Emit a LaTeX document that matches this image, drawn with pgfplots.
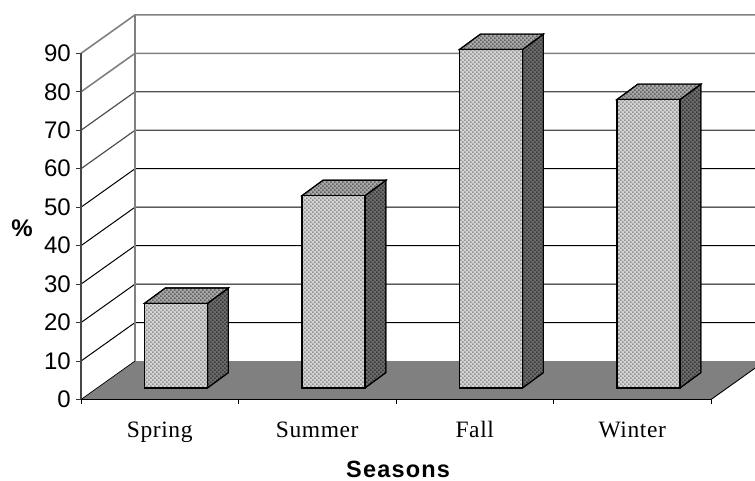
\documentclass[border=0pt]{standalone}
\usepackage{fontspec}
\setmainfont{Liberation Sans}
\newfontfamily\catfont[LetterSpace=2.5]{Liberation Serif}
\newfontfamily\labfont[LetterSpace=5]{Liberation Sans}
\usepackage{pgfplots}
\pgfplotsset{compat=1.18}
\usetikzlibrary{patterns}
\pgfdeclarepatternformonly{dith}{\pgfqpoint{-0.5pt}{-0.5pt}}{\pgfqpoint{3.5pt}{3.5pt}}{\pgfqpoint{4pt}{4pt}}{%
  \pgfpathrectangle{\pgfqpoint{0pt}{0pt}}{\pgfqpoint{1.6pt}{1.6pt}}%
  \pgfpathrectangle{\pgfqpoint{2pt}{2pt}}{\pgfqpoint{1.6pt}{1.6pt}}%
  \pgfusepath{fill}}
\definecolor{floorgray}{HTML}{808080}
\tikzset{
  frontface/.style={draw=black,line width=1.1pt,fill={rgb,255:red,212;green,212;blue,212},
    postaction={pattern=dith,pattern color={rgb,255:red,144;green,144;blue,144}}},
  topface/.style={draw=black,line width=1.1pt,fill={rgb,255:red,168;green,168;blue,168},
    postaction={pattern=dith,pattern color={rgb,255:red,96;green,96;blue,96}}},
  sideface/.style={draw=black,line width=1.1pt,fill={rgb,255:red,108;green,108;blue,108},
    postaction={pattern=dith,pattern color={rgb,255:red,56;green,56;blue,56}}},
  grida/.style={draw=floorgray,line width=1.6pt},
  gridb/.style={draw={rgb,255:red,80;green,80;blue,80},line width=1.2pt},
  gridc/.style={draw=black,line width=1pt},
}
\begin{document}
\begin{tikzpicture}
\useasboundingbox (-81pt,-81.5pt) rectangle (674pt,399.5pt);
\begin{axis}[
  x=157.5pt, y=3.846pt,
  xmin=-0.5, xmax=3.5, ymin=0, ymax=90,
  clip=false, axis on top,
  axis x line*=bottom, axis y line*=left,
  x axis line style={-,draw=black,line width=1.5pt},
  y axis line style={-,draw={rgb,255:red,70;green,70;blue,70},line width=1.4pt},
  xtick={0,1,2,3}, xticklabels={Spring,Summer,Fall,Winter},
  minor xtick={-0.5,0.5,1.5,2.5,3.5},
  ytick={0,10,...,90},
  major x tick style={draw=none},
  minor tick length=5pt,
  major tick length=5pt,
  tick align=outside,
  every tick/.style={draw={rgb,255:red,50;green,50;blue,50},line width=0.9pt},
  minor x tick style={draw=black,line width=0.9pt},
  /pgf/number format/assume math mode=true,
  yticklabel style={font=\fontsize{24}{26}\selectfont,inner sep=0pt,xshift=-5pt},
  xticklabel style={font=\catfont\fontsize{23.5}{26}\selectfont,inner sep=0pt,anchor=base,yshift=-33.5pt},
  xlabel={Seasons}, ylabel={\%},
  every axis x label/.style={at={(axis cs:1.513,-20.4)},anchor=base,inner sep=0pt,font=\labfont\bfseries\fontsize{23.5}{26}\selectfont},
  every axis y label/.style={at={(axis cs:-0.8746,44.6)},anchor=center,inner sep=0pt,font=\bfseries\fontsize{24}{26}\selectfont},
]
% floor
\addplot[fill=floorgray,draw=none] coordinates {(-0.5,0)(-0.157,10)(3.843,10)(3.5,0)} -- cycle;
\addplot[draw=black,line width=0.9pt] coordinates {(3.5,0)(3.843,10)};
\addplot[draw=black,line width=0.7pt] coordinates {(-0.5,0)(-0.157,10)};
% walls
\addplot[gridc] coordinates {(-0.5,10)(-0.157,20)(3.843,20)};
\addplot[gridc] coordinates {(-0.5,20)(-0.157,30)(3.843,30)};
\addplot[gridc] coordinates {(-0.5,30)(-0.157,40)(3.843,40)};
\addplot[gridc] coordinates {(-0.5,40)(-0.157,50)(3.843,50)};
\addplot[gridc] coordinates {(-0.5,50)(-0.157,60)(3.843,60)};
\addplot[gridb] coordinates {(-0.5,60)(-0.157,70)(3.843,70)};
\addplot[gridb] coordinates {(-0.5,70)(-0.157,80)(3.843,80)};
\addplot[grida] coordinates {(-0.5,80)(-0.157,90)(3.843,90)};
\addplot[grida] coordinates {(-0.5,90)(-0.157,100)(3.843,100)};
\addplot[grida] coordinates {(-0.157,10)(-0.157,100)};
% bar sides and tops
\addplot[sideface] coordinates {(0.303,3)(0.303,25)(0.436,29)(0.436,7)} -- cycle;
\addplot[topface] coordinates {(-0.097,25)(0.036,29)(0.436,29)(0.303,25)} -- cycle;
\addplot[sideface] coordinates {(1.303,3)(1.303,53)(1.436,57)(1.436,7)} -- cycle;
\addplot[topface] coordinates {(0.903,53)(1.036,57)(1.436,57)(1.303,53)} -- cycle;
\addplot[sideface] coordinates {(2.303,3)(2.303,91)(2.436,95)(2.436,7)} -- cycle;
\addplot[topface] coordinates {(1.903,91)(2.036,95)(2.436,95)(2.303,91)} -- cycle;
\addplot[sideface] coordinates {(3.303,3)(3.303,78)(3.436,82)(3.436,7)} -- cycle;
\addplot[topface] coordinates {(2.903,78)(3.036,82)(3.436,82)(3.303,78)} -- cycle;
\end{axis}
\begin{axis}[
  x=157.5pt, y=3.846pt,
  xmin=-0.5, xmax=3.5, ymin=0, ymax=90,
  clip=false, hide axis,
  ybar stacked, bar width=63pt,
]
\addplot[draw=none,fill=none,bar shift=16.2pt] coordinates {(0,3)(1,3)(2,3)(3,3)};
\addplot[frontface,bar shift=16.2pt] coordinates {(0,22)(1,50)(2,88)(3,75)};
\end{axis}
\end{tikzpicture}
\end{document}
